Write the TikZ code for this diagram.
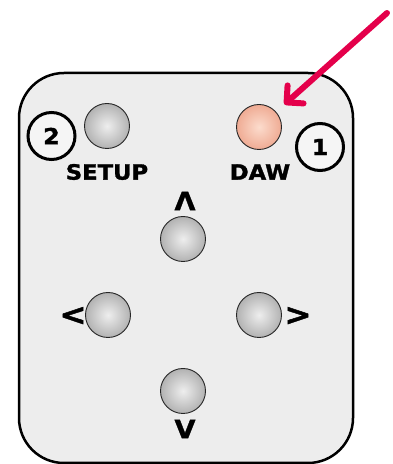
\documentclass[tikz,border=0pt]{standalone}
\usepackage{fontspec}
\newfontfamily\keyfont{DejaVu Sans}[FakeStretch=1.08,FakeBold=1.5]
\usetikzlibrary{arrows.meta}
\definecolor{panel}{RGB}{237,237,237}
\definecolor{knoblight}{RGB}{238,238,238}
\definecolor{knobmid}{RGB}{178,178,178}
\definecolor{knobdark}{RGB}{115,115,115}
\definecolor{dawlight}{RGB}{252,220,205}
\definecolor{dawdark}{RGB}{226,122,90}
\definecolor{pointer}{RGB}{228,0,75}
\pgfdeclareradialshading{knobshade}{\pgfpointorigin}{color(0bp)=(knoblight); color(25bp)=(knobmid); color(50bp)=(knobdark)}
\pgfdeclareradialshading{dawshade}{\pgfpointorigin}{color(0bp)=(dawlight); color(50bp)=(dawdark)}

\begin{document}
\begin{tikzpicture}[x=1pt,y=1pt,
  knob/.style={circle,draw=black!85,line width=0.9pt,minimum size=45pt,inner sep=0pt,shading=knobshade},
  key/.style={font=\keyfont\bfseries\fontsize{21}{21}\selectfont,inner sep=0pt},
  chevron/.style={font=\keyfont\bfseries\fontsize{25}{25}\selectfont,inner sep=0pt},
  badge/.style={circle,draw,line width=3pt,fill=white!96!black,minimum size=47pt,inner sep=0pt,
    font=\keyfont\bfseries\fontsize{22}{22}\selectfont}]
\useasboundingbox (0,0) rectangle (393,464);
\draw[line width=2.5pt,fill=panel,rounded corners=45pt] (19,1) rectangle (353,391);
% buttons
\node[knob] (setup) at (107,338) {};
\node[knob,shading=dawshade] (daw) at (259,337) {};
\node[knob] (up) at (183,225) {};
\node[knob] (left) at (108,149) {};
\node[knob] (right) at (259,149) {};
\node[knob] (down) at (183,73) {};
% labels
\node[key] (setuplabel) at (107,292) {SETUP};
\node[key] (dawlabel) at (260,292) {DAW};
\node[chevron] (uplabel) at (185,263) {Λ};
\node[chevron,font=\keyfont\bfseries\fontsize{30}{30}\selectfont] (leftlabel) at (73,148) {<};
\node[chevron,font=\keyfont\bfseries\fontsize{30}{30}\selectfont] (rightlabel) at (298,148) {>};
\node[chevron] (downlabel) at (185,35) {V};
\node[badge] (two) at (51.5,328) {2};
\node[badge] (one) at (320,317) {1};
% pointer
\coordinate (arrowtail) at (387,451);
\draw[pointer,line width=6pt,line cap=round,-{Straight Barb[angle=90:17pt,round]},shorten >=11pt]
  (arrowtail) -- (daw);
\end{tikzpicture}
\end{document}
